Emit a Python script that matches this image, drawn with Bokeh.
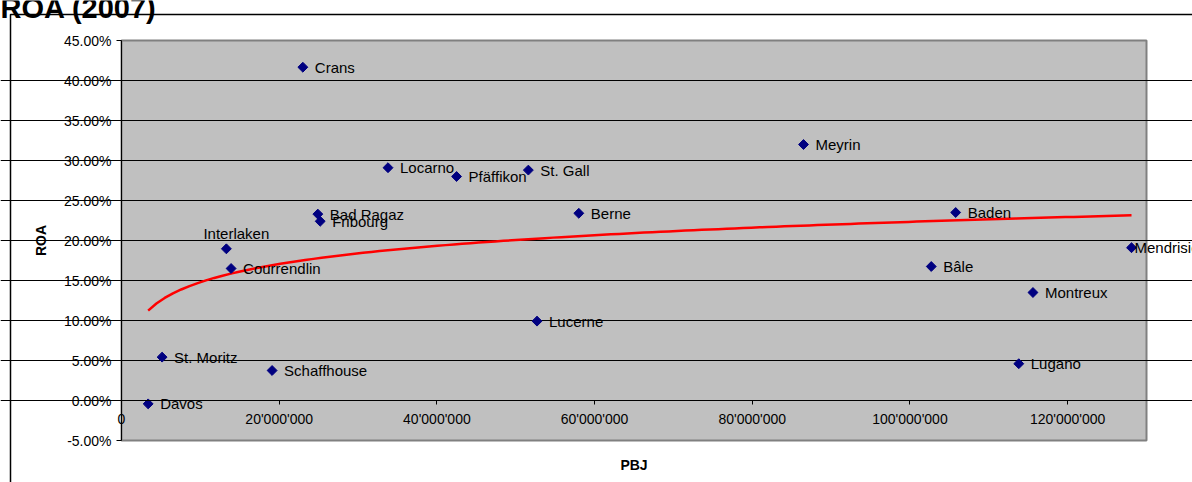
import numpy as np
from bokeh.plotting import figure
from bokeh.models import (LinearAxis, FixedTicker, NumeralTickFormatter, Range1d, Grid,
                          ColumnDataSource, LabelSet, Label, BoxAnnotation)
from bokeh.core.properties import value
from bokeh.embed import file_html
from bokeh.resources import INLINE

# Hotel locations: gross operating revenue (PBJ, CHF) vs return on assets (ROA), 2007
towns = ["Davos", "St. Moritz", "Interlaken", "Courrendlin", "Schaffhouse", "Crans",
         "Bad Ragaz", "Fribourg", "Locarno", "Pfäffikon", "St. Gall", "Lucerne",
         "Berne", "Meyrin", "Bâle", "Baden", "Lugano", "Montreux", "Mendrisio"]
pbj = [3.38e6, 5.15e6, 13.3e6, 13.9e6, 19.1e6, 23.0e6,
       24.9e6, 25.2e6, 33.8e6, 42.5e6, 51.6e6, 52.7e6,
       58.0e6, 86.5e6, 102.7e6, 105.8e6, 113.8e6, 115.6e6, 128.1e6]
roa = [-0.0042, 0.0542, 0.1896, 0.1650, 0.0375, 0.4166,
       0.2330, 0.2240, 0.2910, 0.2800, 0.2880, 0.0992,
       0.2340, 0.3200, 0.1675, 0.2350, 0.0460, 0.1350, 0.1910]

y_ticks = [-0.05, 0.0, 0.05, 0.10, 0.15, 0.20, 0.25, 0.30, 0.35, 0.40, 0.45]
x_ticks = [0, 20_000_000, 40_000_000, 60_000_000, 80_000_000, 100_000_000, 120_000_000]
x_tick_labels = ["0", "20'000'000", "40'000'000", "60'000'000", "80'000'000",
                 "100'000'000", "120'000'000"]

FONT = "Liberation Sans"

# page geometry: the frame covers the whole canvas, the plot area sits inside it
W, H = 1192, 482
PL, PR, PT, PB = 121, 1146, 40, 440
X0, X1 = 0, 130_000_000
Y0, Y1 = y_ticks[0], y_ticks[-1]
sx = (X1 - X0) / (PR - PL)
sy = (Y1 - Y0) / (PB - PT)


def px_x(px):
    return X0 + (px - PL) * sx


def px_y(py):
    return Y1 - (py - PT) * sy


p = figure(width=W, height=H, output_backend="svg", toolbar_location=None,
           x_range=Range1d(px_x(0), px_x(W)), y_range=Range1d(px_y(H), px_y(0)),
           x_axis_location=None, y_axis_location=None,
           min_border=0, background_fill_color="white", border_fill_color="white",
           outline_line_color=None)
for g in p.grid:
    g.visible = False

# grey plot area
p.add_layout(BoxAnnotation(left=X0, right=X1, bottom=Y0, top=Y1, level="image",
                           fill_color="#C0C0C0", fill_alpha=1,
                           line_color="#808080", line_alpha=1, line_width=2))

# chart area frame
p.add_layout(BoxAnnotation(left=px_x(10), right=px_x(W + 20), top=px_y(14),
                           bottom=px_y(H + 20), level="image", fill_alpha=0,
                           line_color="black", line_alpha=1, line_width=1.5))

p.add_layout(Grid(dimension=1, ticker=FixedTicker(ticks=y_ticks[1:-1]),
                  bounds=(X0, X1), grid_line_color="black", grid_line_width=1))

# y axis at PBJ = 0
ya = LinearAxis(fixed_location=X0, bounds=(Y0, Y1), ticker=FixedTicker(ticks=y_ticks),
                formatter=NumeralTickFormatter(format="0.00%"),
                axis_line_color="black", major_tick_line_color="black",
                major_tick_in=0, major_tick_out=5, minor_tick_line_color=None,
                major_label_text_font=FONT, major_label_text_font_size="14px",
                major_label_text_color="black", major_label_standoff=5,
                axis_label="ROA", axis_label_text_font=FONT,
                axis_label_text_font_style="bold", axis_label_text_font_size="14px",
                axis_label_text_color="black", axis_label_standoff=12)
p.add_layout(ya, "left")

# x axis crossing at ROA = 0
xa = LinearAxis(fixed_location=0, bounds=(X0, X1), ticker=FixedTicker(ticks=x_ticks),
                major_label_overrides=dict(zip(x_ticks, x_tick_labels)),
                axis_line_color="black", major_tick_line_color="black",
                major_tick_in=0, major_tick_out=4, minor_tick_line_color=None,
                major_label_text_font=FONT, major_label_text_font_size="14px",
                major_label_text_color="black", major_label_standoff=6)
p.add_layout(xa, "below")

# x axis title under the plot area
xt = LinearAxis(fixed_location=Y0, bounds=(X0, X1), ticker=FixedTicker(ticks=[]),
                axis_line_color=None, major_tick_line_color=None,
                minor_tick_line_color=None,
                axis_label="PBJ", axis_label_text_font=FONT,
                axis_label_text_font_style="bold", axis_label_text_font_size="14px",
                axis_label_text_color="black", axis_label_standoff=16)
p.add_layout(xt, "below")

# logarithmic trend line fitted to the points
lx = np.log(np.array(pbj))
slope, intercept = np.polyfit(lx, np.array(roa), 1)
tx = np.linspace(min(pbj), max(pbj), 120)
p.line(tx, slope * np.log(tx) + intercept, line_color="#FF0000", line_width=2.5)

src = ColumnDataSource(dict(x=pbj, y=roa, name=towns))
p.scatter("x", "y", source=src, marker="square", angle=np.pi / 4, size=7,
          fill_color="#000080", line_color="#000080")

# point labels: right of the marker, Interlaken above, rightmost one tight
above = ["Interlaken"]
tight = [towns[int(np.argmax(pbj))]]
right_idx = [i for i, t in enumerate(towns) if t not in above + tight]


def sub(idx):
    return ColumnDataSource(dict(x=[pbj[i] for i in idx], y=[roa[i] for i in idx],
                                 name=[towns[i] for i in idx]))


common = dict(text_font=value(FONT), text_font_size=value("15px"),
              text_color=value("black"))
p.add_layout(LabelSet(x="x", y="y", text="name", source=sub(right_idx),
                      x_offset=12, text_baseline="middle", **common))
p.add_layout(LabelSet(x="x", y="y", text="name",
                      source=sub([towns.index(t) for t in above]),
                      x_offset=10, y_offset=15, text_align="center",
                      text_baseline="middle", **common))
p.add_layout(LabelSet(x="x", y="y", text="name",
                      source=sub([towns.index(t) for t in tight]),
                      x_offset=3, text_baseline="middle", **common))

# chart title, running off the top of the page
p.add_layout(Label(x=px_x(0), y=px_y(7), text="ROA (2007)",
                   text_font=FONT, text_font_style="bold", text_font_size="29px",
                   text_baseline="alphabetic", text_align="left", text_color="black"))

open("out.html", "w").write(file_html(p, INLINE))
